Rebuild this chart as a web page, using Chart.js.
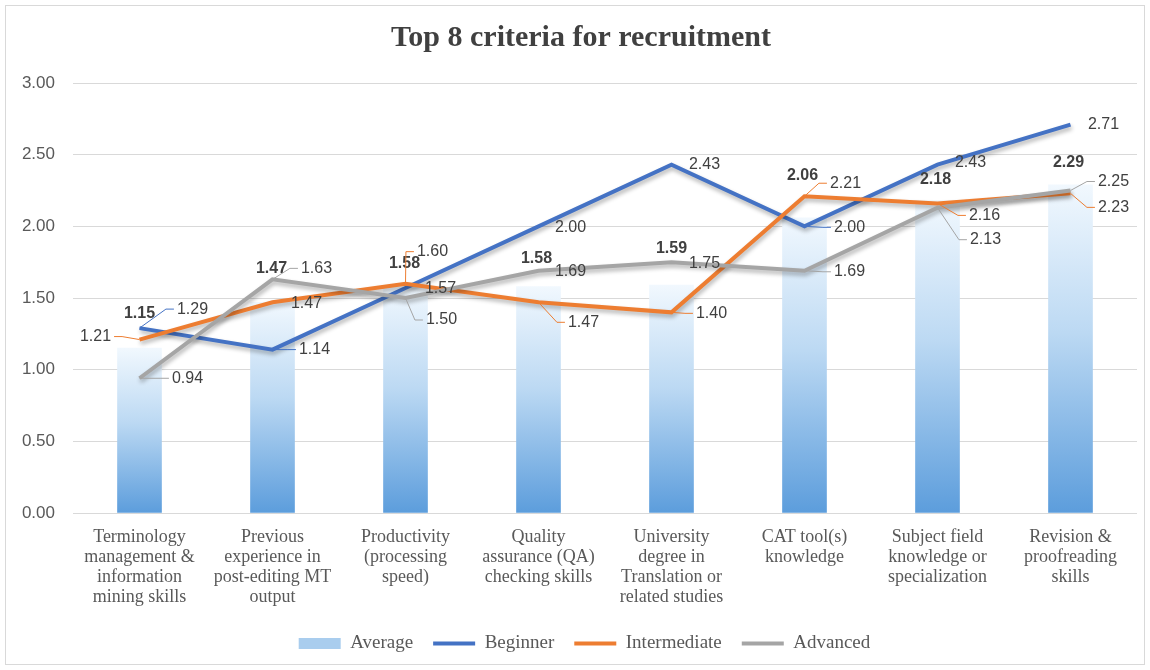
<!DOCTYPE html>
<html>
<head>
<meta charset="utf-8">
<script src="https://cdn.jsdelivr.net/npm/chart.js@4.4.0/dist/chart.umd.min.js"></script>
<style>
  html, body { margin: 0; padding: 0; background: #fff; }
  #wrap { position: relative; width: 1150px; height: 670px; }
  #frame { position: absolute; left: 5px; top: 5px; width: 1138px; height: 658px; border: 1px solid #d9d9d9; pointer-events: none; }
</style>
</head>
<body>
<div id="wrap"><canvas id="c" width="1150" height="670"></canvas><div id="frame"></div></div>
<script>
const categories = [
  ['Terminology', 'management &', 'information', 'mining skills'],
  ['Previous', 'experience in', 'post-editing MT', 'output'],
  ['Productivity', '(processing', 'speed)'],
  ['Quality', 'assurance (QA)', 'checking skills'],
  ['University', 'degree in', 'Translation or', 'related studies'],
  ['CAT tool(s)', 'knowledge'],
  ['Subject field', 'knowledge or', 'specialization'],
  ['Revision &', 'proofreading', 'skills']
]
const average = [1.15, 1.47, 1.58, 1.58, 1.59, 2.06, 2.18, 2.29]
const beginner = [1.29, 1.14, 1.57, 2.00, 2.43, 2.00, 2.43, 2.71]
const intermediate = [1.21, 1.47, 1.60, 1.47, 1.40, 2.21, 2.16, 2.23]
const advanced = [0.94, 1.63, 1.50, 1.69, 1.75, 1.69, 2.13, 2.25]
const yTicks = [0, 0.5, 1, 1.5, 2, 2.5, 3]

// where each data label sits, relative to its point (px)
const labelOffsets = [
  [[0,-35],[-1,-34],[-1,-23],[-2,-28],[0,-37],[-2,-42],[-2,-21],[-2,-22]],
  [[53,-19],[42,0],[35,1],[32,1],[33,0],[45,1],[33,-2],[33,0]],
  [[-44,-3],[34,1],[27,-32],[45,20],[40,1],[41,-13],[47,12],[43,14]],
  [[48,0],[44,-11],[36,22],[32,1],[33,1],[45,1],[48,32],[43,-9]]
]

const SERIF = '"Liberation Serif", "Times New Roman", serif'
const SANS = '"Liberation Sans", Arial, sans-serif'

function barFill(ctx) {
  const chart = ctx.chart
  if (!chart.chartArea || ctx.type !== 'data') return '#9dc3e6'
  const y = chart.scales.y
  const top = y.getPixelForValue(ctx.raw), bottom = y.getPixelForValue(0)
  const g = chart.ctx.createLinearGradient(0, top, 0, bottom)
  g.addColorStop(0, '#f1f8fe')
  g.addColorStop(0.45, '#bcd9f3')
  g.addColorStop(1, '#5c9ddc')
  return g
}

// nudge title and legend a little right, like the original
const shiftPlugin = {
  id: 'shiftBoxes',
  afterLayout(chart) {
    chart.titleBlock.left += 25
    chart.legend.left += 32
  }
}

const shadowPlugin = {
  id: 'lineShadow',
  beforeDatasetDraw(chart, args) {
    if (chart.data.datasets[args.index].type !== 'line') return
    const c = chart.ctx
    c.save()
    c.shadowColor = 'rgba(0,0,0,0.3)'
    c.shadowBlur = 4
    c.shadowOffsetX = 1
    c.shadowOffsetY = 3
  },
  afterDatasetDraw(chart, args) {
    if (chart.data.datasets[args.index].type === 'line') chart.ctx.restore()
  }
}

const labelPlugin = {
  id: 'dataLabels',
  afterDatasetsDraw(chart) {
    const c = chart.ctx
    chart.data.datasets.forEach((ds, i) => {
      const meta = chart.getDatasetMeta(i)
      const isBar = ds.type === 'bar'
      c.save()
      c.font = (isBar ? 'bold ' : '') + '16px ' + SANS
      c.textAlign = 'center'
      c.textBaseline = 'middle'
      meta.data.forEach((el, j) => {
        const [dx, dy] = labelOffsets[i][j]
        const px = el.x, py = el.y
        const cx = px + dx, cy = py + dy
        const txt = ds.data[j].toFixed(2)
        const w = c.measureText(txt).width
        if (!isBar) {
          const right = dx > 0
          const ex = right ? cx - w / 2 - 3 : cx + w / 2 + 3
          const gap = right ? ex - px : px - ex
          if (gap > 20 || Math.abs(dy) > 12) {
            let knee = right ? ex - 8 : ex + 8
            if (right && knee < px) knee = px
            if (!right && knee > px) knee = px
            c.strokeStyle = ds.borderColor
            c.lineWidth = 1
            c.beginPath()
            c.moveTo(px, py)
            c.lineTo(knee, cy)
            c.lineTo(ex, cy)
            c.stroke()
          }
        }
        c.fillStyle = '#404040'
        c.fillText(txt, cx, cy)
      })
      c.restore()
    })
  }
}

const lineDs = (label, data, color, order) => ({
  type: 'line', label, data, borderColor: color, backgroundColor: color,
  borderWidth: 4, pointRadius: 0, tension: 0, fill: false, order
})

new Chart(document.getElementById('c'), {
  data: {
    labels: categories,
    datasets: [
      { type: 'bar', label: 'Average', data: average, backgroundColor: barFill, barThickness: 44, order: 10 },
      lineDs('Beginner', beginner, '#4472c4', 3),
      lineDs('Intermediate', intermediate, '#ed7d31', 2),
      lineDs('Advanced', advanced, '#a5a5a5', 1)
    ]
  },
  options: {
    responsive: false,
    animation: false,
    devicePixelRatio: 1,
    layout: { padding: { left: 0, right: 13, top: 0, bottom: 7 } },
    plugins: {
      tooltip: { enabled: false },
      title: {
        display: true, text: 'Top 8 criteria for recruitment', color: '#404040',
        font: { family: SERIF, size: 30, weight: 'bold' },
        padding: { top: 20, bottom: 27 }
      },
      legend: {
        position: 'bottom',
        labels: {
          color: '#595959', font: { family: SERIF, size: 19 },
          usePointStyle: true, pointStyleWidth: 42, boxHeight: 11, padding: 20,
          generateLabels: chart => chart.data.datasets.map((ds, i) => ({
            text: ds.label, datasetIndex: i, hidden: false, fontColor: '#595959',
            fillStyle: ds.type === 'bar' ? '#a9cdee' : ds.borderColor,
            strokeStyle: ds.type === 'bar' ? '#a9cdee' : ds.borderColor,
            lineWidth: ds.type === 'bar' ? 0 : 4,
            pointStyle: ds.type === 'bar' ? 'rect' : 'line'
          }))
        }
      }
    },
    scales: {
      x: {
        grid: { display: false, drawTicks: false },
        border: { display: false },
        ticks: { color: '#595959', font: { family: SERIF, size: 18, lineHeight: 20 / 18 }, padding: 14, maxRotation: 0, autoSkip: false },
        afterFit: s => { s.height = 101 }
      },
      y: {
        min: 0, max: 3,
        grid: { color: '#d9d9d9', drawTicks: false },
        border: { display: false },
        ticks: { color: '#595959', font: { family: SANS, size: 17 }, padding: 18, callback: v => v.toFixed(2) },
        afterBuildTicks: s => { s.ticks = yTicks.map(v => ({ value: v })) },
        afterFit: s => { s.width = 73 }
      }
    }
  },
  plugins: [shiftPlugin, shadowPlugin, labelPlugin]
})
</script>
</body>
</html>
